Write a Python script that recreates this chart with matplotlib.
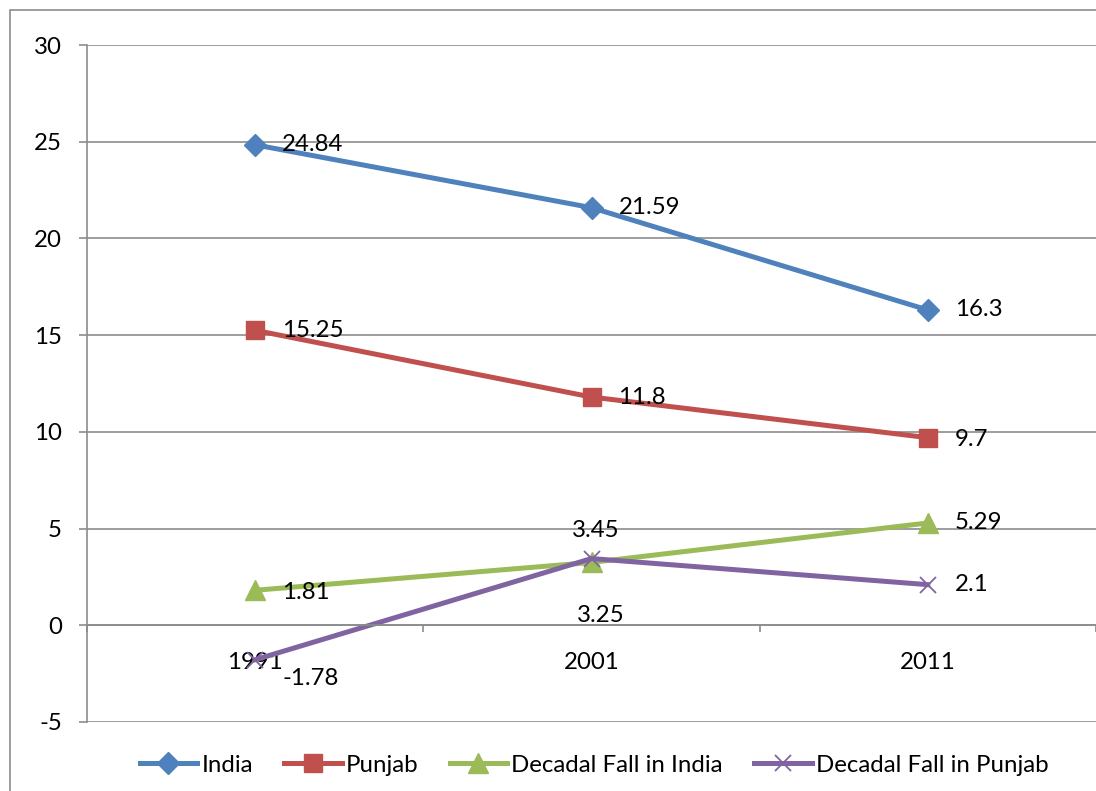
import matplotlib

matplotlib.use("Agg")
import matplotlib.pyplot as plt
import matplotlib.patches as mpatches
from matplotlib.ticker import FixedLocator

plt.rcParams["font.family"] = ["Lato", "DejaVu Sans"]
plt.rcParams["axes.unicode_minus"] = False

years = ["1991", "2001", "2011"]
india = [24.84, 21.59, 16.3]
punjab = [15.25, 11.8, 9.7]
fall_india = [1.81, 3.25, 5.29]
fall_punjab = [-1.78, 3.45, 2.1]

grid_color = "#8c8c8c"
font_size = 17.3


def px(v):
    # pixels -> points at dpi 100
    return v * 0.72


def add_labels(ax, values, offsets, has):
    for i, (v, off, ha) in enumerate(zip(values, offsets, has)):
        ax.annotate(
            f"{v:g}",
            xy=(i, v),
            xytext=(px(off[0]), px(off[1])),
            textcoords="offset points",
            ha=ha,
            va="center",
            fontsize=font_size,
            color="black",
            zorder=10,
        )


fig = plt.figure(figsize=(10.96, 7.91), dpi=100)
ax = fig.add_axes([87 / 1096, 1 - 722 / 791, 1 - 87 / 1096, (722 - 45) / 791])

x = range(len(years))
ax.plot(x, india, color="#4f81bd", lw=3.6, marker="D", ms=11, label="India")
ax.plot(x, punjab, color="#c0504d", lw=3.6, marker="s", ms=13, label="Punjab")
ax.plot(x, fall_india, color="#9bbb59", lw=3.6, marker="^", ms=14,
        label="Decadal Fall in India")
ax.plot(x, fall_punjab, color="#8064a2", lw=3.6, marker="x", ms=12, mew=1.3,
        label="Decadal Fall in Punjab")

right = (27, 0)
add_labels(ax, india, [right, right, right], ["left"] * 3)
add_labels(ax, punjab, [right, right, (27, -2)], ["left"] * 3)
add_labels(ax, fall_india, [(27, -2), (9, -53), right], ["left", "center", "left"])
add_labels(ax, fall_punjab, [(27, -19), (4, 28), right], ["left", "center", "left"])

ax.set_xlim(-0.5, len(years) - 0.5)
ax.set_ylim(-5, 30)
ax.set_yticks(range(-5, 31, 5))
ax.set_xticks(list(x))
ax.set_xticklabels(years)
ax.xaxis.set_minor_locator(FixedLocator([i - 0.5 for i in range(len(years) + 1)]))

ax.grid(axis="y", color=grid_color, lw=1.2)
ax.set_axisbelow(True)
for side in ["top", "right"]:
    ax.spines[side].set_visible(False)
ax.spines["bottom"].set_position(("data", 0))
ax.spines["bottom"].set_color(grid_color)
ax.spines["bottom"].set_linewidth(1.2)
ax.spines["left"].set_color(grid_color)
ax.spines["left"].set_linewidth(1.2)

ax.tick_params(axis="y", direction="out", length=6, width=1.2, color=grid_color,
               labelsize=font_size, pad=12)
ax.tick_params(axis="x", which="major", length=0, labelsize=font_size, pad=19)
ax.tick_params(axis="x", which="minor", direction="out", length=5, width=1.2,
               color=grid_color)

fig.legend(
    loc="center",
    bbox_to_anchor=(594 / 1096, 1 - 765 / 791),
    ncol=4,
    frameon=False,
    fontsize=font_size,
    handlelength=2.4,
    handletextpad=0.17,
    columnspacing=1.3,
)

border = mpatches.Rectangle(
    (10 / 1096, -0.5), 2, 0.5 + 1 - 10 / 791,
    transform=fig.transFigure, fill=False, edgecolor=grid_color, lw=1.2,
)
fig.add_artist(border)

fig.savefig("out.png", dpi=100)
